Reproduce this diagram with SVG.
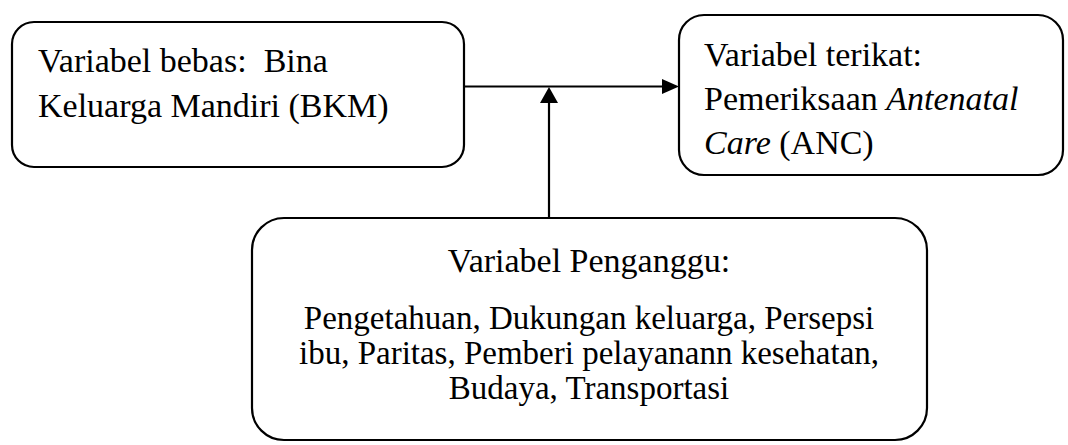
<svg xmlns="http://www.w3.org/2000/svg" width="1068" height="445" viewBox="0 0 1068 445">
  <style>
    .box { fill: #ffffff; stroke: #000000; stroke-width: 2.2; }
    .t { font-family: "Liberation Serif", "Times New Roman", serif; font-size: 34px; fill: #000000; }
    .s { font-size: 33px; }
    .c { text-anchor: middle; }
    .line { stroke: #000000; stroke-width: 2.2; fill: none; }
  </style>
  <rect width="1068" height="445" fill="#ffffff"/>

  <g id="connectors">
    <line class="line" x1="464" y1="86.5" x2="664" y2="86.5"/>
    <path d="M662,79 L679,86.5 L662,94 Z" fill="#000000"/>
    <line class="line" x1="549" y1="218" x2="549" y2="100"/>
    <path d="M540,103 L549,87 L558,103 Z" fill="#000000"/>
  </g>

  <g id="node-bebas">
    <rect class="box" x="12" y="22" width="452" height="145" rx="22" ry="22"/>
    <text class="t" x="38" y="72" xml:space="preserve">Variabel bebas:  Bina</text>
    <text class="t" x="38" y="117">Keluarga Mandiri (BKM)</text>
  </g>

  <g id="node-terikat">
    <rect class="box" x="679" y="15" width="384" height="160" rx="25" ry="25"/>
    <text class="t" x="704" y="66">Variabel terikat:</text>
    <text class="t" x="704" y="110">Pemeriksaan <tspan font-style="italic">Antenatal</tspan></text>
    <text class="t" x="704" y="154"><tspan font-style="italic">Care</tspan> (ANC)</text>
  </g>

  <g id="node-pengganggu">
    <rect class="box" x="252" y="218" width="675" height="222" rx="32" ry="32"/>
    <text class="t c" x="589" y="272">Variabel Penganggu:</text>
    <text class="t s c" x="589" y="329">Pengetahuan, Dukungan keluarga, Persepsi</text>
    <text class="t s c" x="589" y="364">ibu, Paritas, Pemberi pelayanann kesehatan,</text>
    <text class="t s c" x="589" y="399">Budaya, Transportasi</text>
  </g>
</svg>
